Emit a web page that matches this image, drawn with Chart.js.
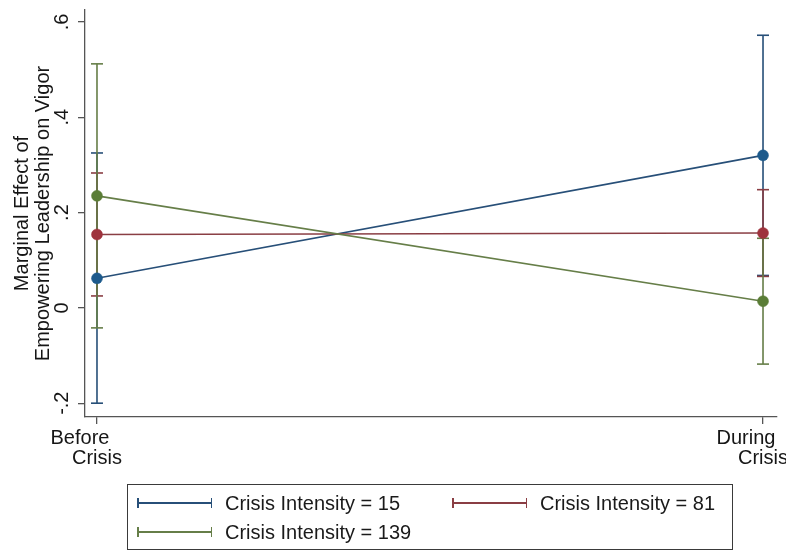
<!DOCTYPE html>
<html>
<head>
<meta charset="utf-8">
<script src="https://cdn.jsdelivr.net/npm/chart.js@4/dist/chart.umd.min.js"></script>
<style>
  html, body { margin: 0; padding: 0; background: #ffffff; }
  #wrap { position: relative; width: 786px; height: 552px; font-family: "Liberation Sans", Arial, sans-serif; }
  #legend {
    position: absolute; left: 127px; top: 484px; width: 604px; height: 64px;
    border: 1.5px solid #3a3a3a; box-sizing: content-box;
  }
  .item { position: absolute; height: 24px; display: flex; align-items: center; font-size: 20px; color: #1a1a1a; white-space: nowrap; }
  .sym { position: relative; width: 75px; height: 10px; margin-right: 13px; }
  .sym .bar { position: absolute; left: 0; right: 0; top: 4px; height: 1.5px; }
  .sym .cap { position: absolute; top: 0; width: 1.5px; height: 10px; }
</style>
</head>
<body>
<div id="wrap">
  <canvas id="chart"></canvas>
  <div id="legend"></div>
</div>
<script>
// Marginal effects of empowering leadership on vigor, by crisis period
const categories = ['Before Crisis', 'During Crisis'];
const xTickLines = [['Before', 'Crisis'], ['During', 'Crisis']];
const xPositions = [0, 1];
const seriesNames = ['Crisis Intensity = 15', 'Crisis Intensity = 81', 'Crisis Intensity = 139'];

const effect15  = [0.062, 0.320];
const lower15   = [-0.200, 0.068];
const upper15   = [0.325, 0.572];

const effect81  = [0.154, 0.157];
const lower81   = [0.025, 0.066];
const upper81   = [0.283, 0.248];

const effect139 = [0.235, 0.014];
const lower139  = [-0.042, -0.118];
const upper139  = [0.512, 0.146];

const yTickValues = [-0.2, 0, 0.2, 0.4, 0.6];
const yTickLabels = ['-.2', '0', '.2', '.4', '.6'];

const colors = ['#1d5a8c', '#9e333d', '#5a7d36'];
const lineColors = ['#274f78', '#8a3e44', '#667e48'];

const series = [
  { name: seriesNames[0], eff: effect15,  lo: lower15,  hi: upper15 },
  { name: seriesNames[1], eff: effect81,  lo: lower81,  hi: upper81 },
  { name: seriesNames[2], eff: effect139, lo: lower139, hi: upper139 }
];

const FONT = '"Liberation Sans", Arial, sans-serif';
const TEXT = '#161616';

// confidence-interval segments: one vertical capped segment per category
function ciData(s) {
  const pts = [];
  xPositions.forEach((x, i) => {
    pts.push({ x: x, y: s.lo[i] });
    pts.push({ x: x, y: s.hi[i] });
    pts.push({ x: x + 0.5, y: null });
  });
  return pts;
}

const datasets = [];
series.forEach((s, k) => {
  datasets.push({
    type: 'line',
    label: s.name + ' CI',
    data: ciData(s),
    borderColor: lineColors[k],
    borderWidth: 1.6,
    spanGaps: false,
    pointStyle: 'line',
    pointRadius: 6,
    pointBorderWidth: 1.6,
    pointBorderColor: lineColors[k],
    order: 10 - k
  });
});
series.forEach((s, k) => {
  datasets.push({
    type: 'line',
    label: s.name,
    data: xPositions.map((x, i) => ({ x: x, y: s.eff[i] })),
    borderColor: lineColors[k],
    borderWidth: 1.6,
    pointStyle: 'circle',
    pointRadius: 5.5,
    pointBackgroundColor: colors[k],
    pointBorderColor: colors[k],
    pointBorderWidth: 0.5,
    order: 5 - k
  });
});

// rotated y labels and two-line category labels placed from the scales
const tickText = {
  id: 'tickText',
  afterDraw(chart) {
    const ctx = chart.ctx;
    const ys = chart.scales.y, xs = chart.scales.x;
    ctx.save();
    ctx.fillStyle = TEXT;
    ctx.font = '20px ' + FONT;
    ctx.textAlign = 'center';
    ctx.textBaseline = 'alphabetic';
    yTickValues.forEach((v, i) => {
      const py = ys.getPixelForValue(v);
      ctx.save();
      ctx.translate(ys.right - 17, py);
      ctx.rotate(-Math.PI / 2);
      ctx.fillText(yTickLabels[i], 0, 0);
      ctx.restore();
    });
    const base = chart.chartArea.bottom;
    xPositions.forEach((x, i) => {
      const px = xs.getPixelForValue(x);
      ctx.fillText(xTickLines[i][0], px - 17, base + 27);
      ctx.fillText(xTickLines[i][1], px, base + 47);
    });
    ctx.restore();
  }
};

new Chart(document.getElementById('chart'), {
  type: 'line',
  data: { datasets: datasets },
  options: {
    responsive: true,
    maintainAspectRatio: false,
    animation: false,
    events: [],
    layout: { padding: { top: 10, right: 9, bottom: 0, left: 0 } },
    plugins: { legend: { display: false }, tooltip: { enabled: false } },
    scales: {
      x: {
        type: 'linear',
        min: -0.018,
        max: 1.021,
        afterBuildTicks: (scale) => { scale.ticks = xPositions.map(v => ({ value: v })); },
        afterFit: (scale) => { scale.height = 135; },
        ticks: { display: false },
        grid: { display: true, drawOnChartArea: false, drawTicks: true, tickLength: 7, color: '#555', lineWidth: 1.3 },
        border: { display: true, color: '#555', width: 1.3 }
      },
      y: {
        type: 'linear',
        min: -0.229,
        max: 0.625,
        afterBuildTicks: (scale) => { scale.ticks = yTickValues.map(v => ({ value: v })); },
        afterFit: (scale) => { scale.width = 85; },
        ticks: { display: false },
        grid: { display: true, drawOnChartArea: false, drawTicks: true, tickLength: 7, color: '#555', lineWidth: 1.3 },
        border: { display: true, color: '#555', width: 1.3 },
        title: {
          display: true,
          text: ['Marginal Effect of', 'Empowering Leadership on Vigor'],
          color: TEXT,
          font: { family: FONT, size: 20, lineHeight: 1.05 },
          padding: { top: 12, bottom: 0 }
        }
      }
    }
  },
  plugins: [tickText]
});

// legend with capped-line symbols
const legendPos = [
  { left: 9, top: 6 },
  { left: 324, top: 6 },
  { left: 9, top: 35 }
];
const legend = document.getElementById('legend');
series.forEach((s, k) => {
  const item = document.createElement('div');
  item.className = 'item';
  item.style.left = legendPos[k].left + 'px';
  item.style.top = legendPos[k].top + 'px';
  const sym = document.createElement('div');
  sym.className = 'sym';
  sym.innerHTML =
    '<div class="bar" style="background:' + lineColors[k] + '"></div>' +
    '<div class="cap" style="left:0;background:' + lineColors[k] + '"></div>' +
    '<div class="cap" style="right:0;background:' + lineColors[k] + '"></div>';
  const label = document.createElement('span');
  label.textContent = s.name;
  item.appendChild(sym);
  item.appendChild(label);
  legend.appendChild(item);
});
</script>
</body>
</html>
